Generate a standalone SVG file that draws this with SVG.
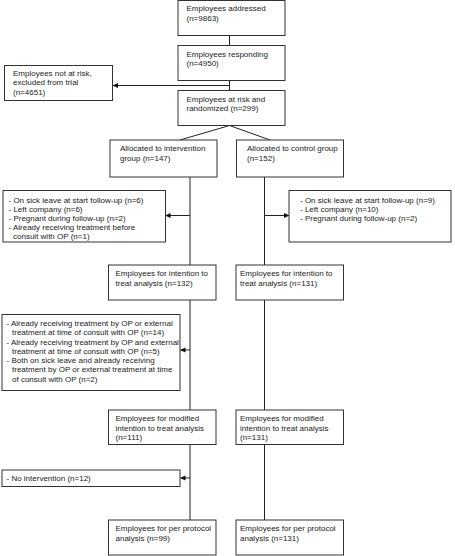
<svg xmlns="http://www.w3.org/2000/svg" width="455" height="556" viewBox="0 0 455 556">
<defs>
<marker id="ah" markerWidth="6" markerHeight="6" refX="5" refY="3" orient="auto" markerUnits="userSpaceOnUse">
<path d="M0,0.5 L5.5,3 L0,5.5 Z" fill="#111"/>
</marker>
<style>
rect.b{fill:#fff;stroke:#333;stroke-width:1}
text{font-family:"Liberation Sans",Arial,sans-serif;font-size:8px;fill:#222}
.c line,.c polyline{stroke:#222;stroke-width:1;fill:none}
.a{marker-end:url(#ah)}
</style>
</defs>
<rect width="455" height="556" fill="#fff"/>
<g class="c" id="connectors">
<line x1="229.5" y1="35.5" x2="229.5" y2="45.5"/>
<line x1="229.5" y1="80.5" x2="229.5" y2="90.5"/>
<line class="a" x1="229.5" y1="85.5" x2="113" y2="85.5"/>
<line x1="229.5" y1="125.5" x2="180" y2="140"/>
<line x1="229.5" y1="125.5" x2="270" y2="140"/>
<line x1="190" y1="177" x2="190" y2="265"/>
<line x1="264.5" y1="177" x2="264.5" y2="265"/>
<line class="a" x1="190" y1="215.5" x2="165.5" y2="215.5"/>
<line class="a" x1="264.5" y1="215.5" x2="289" y2="215.5"/>
<line x1="190" y1="300" x2="190" y2="410"/>
<line x1="264.5" y1="300" x2="264.5" y2="410"/>
<line class="a" x1="190" y1="350" x2="180.5" y2="350"/>
<line x1="190" y1="444.5" x2="190" y2="520"/>
<line x1="264.5" y1="444.5" x2="264.5" y2="520"/>
<line class="a" x1="190" y1="478" x2="180.5" y2="478"/>
</g>
<g id="addressed"><rect class="b" x="178" y="0.5" width="107" height="35"/>
<text x="186.5" y="11">Employees addressed</text><text x="186.5" y="20.5">(n=9863)</text></g>
<g id="responding"><rect class="b" x="178" y="45.5" width="107" height="35"/>
<text x="186.5" y="56.5">Employees responding</text><text x="186.5" y="66">(n=4950)</text></g>
<g id="notatrisk"><rect class="b" x="4.5" y="65.5" width="108" height="35"/>
<text x="13" y="76">Employees not at risk,</text><text x="13" y="85">excluded from trial</text><text x="13" y="94.5">(n=4651)</text></g>
<g id="atrisk"><rect class="b" x="178" y="90.5" width="107" height="35"/>
<text x="186.5" y="101.5">Employees at risk and</text><text x="186.5" y="111">randomized (n=299)</text></g>
<g id="alloc-int"><rect class="b" x="110" y="140" width="107" height="37"/>
<text x="120" y="151">Allocated to intervention</text><text x="120" y="160.5">group (n=147)</text></g>
<g id="alloc-ctrl"><rect class="b" x="236.5" y="140" width="107" height="37"/>
<text x="247" y="151">Allocated to control group</text><text x="247" y="160.5">(n=152)</text></g>
<g id="excl-int-1"><rect class="b" x="3" y="190.5" width="162.5" height="51.5"/>
<text x="8.5" y="203">- On sick leave at start follow-up (n=6)</text>
<text x="8.5" y="212">- Left company (n=6)</text>
<text x="8.5" y="221">- Pregnant during follow-up (n=2)</text>
<text x="8.5" y="230">- Already receiving treatment before</text>
<text x="13" y="239">consult with OP (n=1)</text></g>
<g id="excl-ctrl-1"><rect class="b" x="289" y="190.5" width="162" height="51.5"/>
<text x="300" y="203">- On sick leave at start follow-up (n=9)</text>
<text x="300" y="212">- Left company (n=10)</text>
<text x="300" y="221">- Pregnant during follow-up (n=2)</text></g>
<g id="itt-int"><rect class="b" x="108.5" y="265" width="107.5" height="35"/>
<text x="115.5" y="276">Employees for intention to</text><text x="115.5" y="285.5">treat analysis (n=132)</text></g>
<g id="itt-ctrl"><rect class="b" x="236" y="265" width="107.5" height="35"/>
<text x="240" y="276">Employees for intention to</text><text x="240" y="285.5">treat analysis (n=131)</text></g>
<g id="excl-int-2"><rect class="b" x="2" y="314.5" width="178" height="76"/>
<text x="6.5" y="326">- Already receiving treatment by OP or external</text>
<text x="12" y="335">treatment at time of consult with OP (n=14)</text>
<text x="6.5" y="344.5">- Already receiving treatment by OP and external</text>
<text x="12" y="353.5">treatment at time of consult with OP (n=5)</text>
<text x="6.5" y="363">- Both on sick leave and already receiving</text>
<text x="12" y="372">treatment by OP or external treatment at time</text>
<text x="12" y="381.5">of consult with OP (n=2)</text></g>
<g id="mitt-int"><rect class="b" x="108.5" y="410" width="107.5" height="34.5"/>
<text x="115.5" y="421">Employees for modified</text><text x="115.5" y="430.5">intention to treat analysis</text><text x="115.5" y="440">(n=111)</text></g>
<g id="mitt-ctrl"><rect class="b" x="236" y="410" width="107.5" height="34.5"/>
<text x="240" y="421">Employees for modified</text><text x="240" y="430.5">intention to treat analysis</text><text x="240" y="440">(n=131)</text></g>
<g id="excl-int-3"><rect class="b" x="2" y="470" width="178" height="16.5"/>
<text x="6.5" y="480.5">- No intervention (n=12)</text></g>
<g id="pp-int"><rect class="b" x="108.5" y="520" width="107.5" height="35"/>
<text x="115.5" y="531">Employees for per protocol</text><text x="115.5" y="540.5">analysis (n=99)</text></g>
<g id="pp-ctrl"><rect class="b" x="236" y="520" width="107.5" height="35"/>
<text x="240" y="531">Employees for per protocol</text><text x="240" y="540.5">analysis (n=131)</text></g>
</svg>
